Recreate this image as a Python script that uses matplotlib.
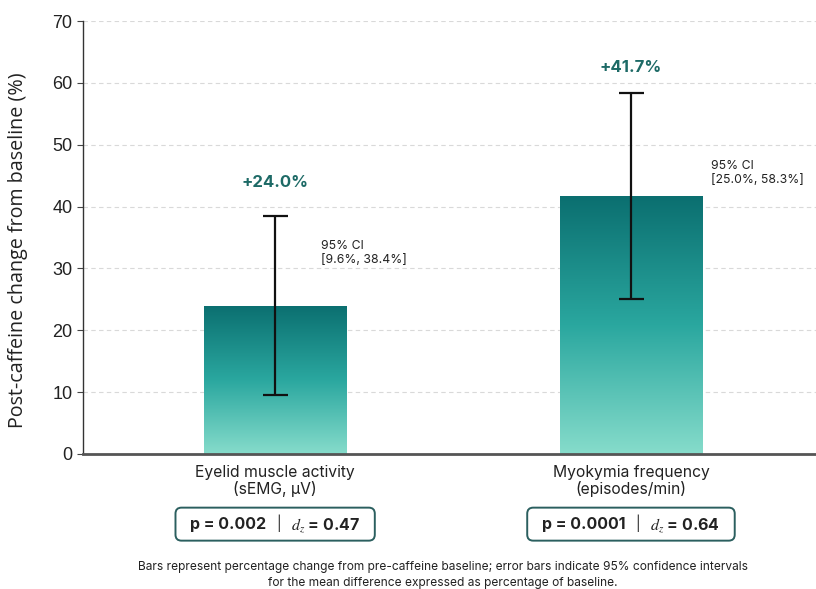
import numpy as np
import matplotlib
matplotlib.use("Agg")
import matplotlib.pyplot as plt
from matplotlib.colors import LinearSegmentedColormap
from matplotlib.patches import FancyBboxPatch
from matplotlib.transforms import IdentityTransform
from matplotlib.offsetbox import TextArea, HPacker, AnnotationBbox

# Data
categories = ["Eyelid muscle activity\n(sEMG, μV)", "Myokymia frequency\n(episodes/min)"]
pct_change = [24.0, 41.7]
ci_low = [9.6, 25.0]
ci_high = [38.4, 58.3]
p_values = ["0.002", "0.0001"]
dz_values = ["0.47", "0.64"]
yticks = [0, 10, 20, 30, 40, 50, 60, 70]

plt.rcParams["font.family"] = ["Inter", "DejaVu Sans"]
plt.rcParams["mathtext.fontset"] = "stix"

TEAL_DARK = "#0b6f70"
TEAL_LIGHT = "#86dccb"
LABEL_TEAL = "#1d6a66"
BOX_EDGE = "#2b5f5f"
TEXT = "#222222"

fig = plt.figure(figsize=(8.16, 5.89), dpi=100)
ax = fig.add_axes([83 / 816, 135 / 589, 733 / 816, 433 / 589])

x = np.arange(len(categories))
width = 0.40
bars = ax.bar(x, pct_change, width=width, color="none", linewidth=0, zorder=2)

# Vertical gradient fill inside each bar
cmap = LinearSegmentedColormap.from_list("teal", [TEAL_LIGHT, "#2aa79f", TEAL_DARK])
grad = np.linspace(0, 1, 256).reshape(-1, 1)
for b in bars:
    x0, y0 = b.get_x(), b.get_y()
    w, h = b.get_width(), b.get_height()
    im = ax.imshow(grad, cmap=cmap, origin="lower", aspect="auto",
                   extent=(x0, x0 + w, y0, y0 + h), zorder=2)
    im.set_clip_path(b)

# Error bars for the 95% CI
yerr = np.array([[v - lo for v, lo in zip(pct_change, ci_low)],
                 [hi - v for v, hi in zip(pct_change, ci_high)]])
ax.errorbar(x, pct_change, yerr=yerr, fmt="none", ecolor="#111111",
            elinewidth=1.6, capsize=9, capthick=1.6, zorder=4)

ax.set_xlim(-0.54, 1.52)
ax.set_ylim(0, 70)
ax.set_yticks(yticks)
ax.tick_params(axis="y", labelsize=13, length=4, color="#444444", labelcolor=TEXT)
for lbl in ax.get_yticklabels():
    lbl.set_family(["Liberation Sans", "DejaVu Sans"])
ax.set_xticks(x)
ax.set_xticklabels(categories, fontsize=11.3, color=TEXT, linespacing=1.1)
ax.tick_params(axis="x", length=0, pad=8)

ax.set_ylabel("Post-caffeine change from baseline (%)", fontsize=14.2, color=TEXT,
              family=["Open Sans", "DejaVu Sans"])
ax.yaxis.set_label_coords(-0.075, 0.47)

ax.grid(axis="y", color="#d9d9d9", linestyle=(0, (4, 3)), linewidth=0.8, zorder=0)
ax.set_axisbelow(True)
for side in ("top", "right"):
    ax.spines[side].set_visible(False)
ax.spines["left"].set_color("#333333")
ax.spines["left"].set_linewidth(1.0)
ax.spines["bottom"].set_color("#555555")
ax.spines["bottom"].set_linewidth(2.0)

# Value labels above CI caps
value_offsets = [5.5, 4.2]
for xi, v, hi, off in zip(x, pct_change, ci_high, value_offsets):
    ax.text(xi, hi + off, f"+{v:.1f}%", ha="center", va="center",
            fontsize=12, fontweight="bold", color=LABEL_TEAL, zorder=5)

# CI annotations
ci_pos = [(0.13, 32.5), (0.225, 45.4)]
for xi, lo, hi, (dx, yy) in zip(x, ci_low, ci_high, ci_pos):
    ax.text(xi + dx, yy, f"95% CI\n[{lo:.1f}%, {hi:.1f}%]", ha="left", va="center",
            fontsize=8.8, color=TEXT, linespacing=1.2, zorder=5)

# Statistics line beneath each category label, framed by a rounded box
bold = dict(fontsize=11.5, fontweight="bold", color=TEXT)
sep = dict(fontsize=10, fontweight="normal", color="#333333")
stat_boxes = []
for xi, p, dz in zip(x, p_values, dz_values):
    pack = HPacker(children=[TextArea(f"p = {p}", textprops=bold),
                             TextArea("|", textprops=sep),
                             TextArea(f"$d_z$ = {dz}", textprops=bold)],
                   sep=7, pad=0, align="baseline")
    ab = AnnotationBbox(pack, (xi, -0.162), xycoords=ax.get_xaxis_transform(),
                        frameon=False, box_alignment=(0.5, 0.5), pad=0,
                        annotation_clip=False, zorder=7)
    ax.add_artist(ab)
    stat_boxes.append(ab)

fig.canvas.draw()
renderer = fig.canvas.get_renderer()
for ab in stat_boxes:
    bb = ab.get_window_extent(renderer)
    cx, cy = (bb.x0 + bb.x1) / 2, (bb.y0 + bb.y1) / 2
    bw, bh = bb.width + 30, 33
    box = FancyBboxPatch((cx - bw / 2, cy - bh / 2), bw, bh,
                         boxstyle="round,pad=0,rounding_size=6",
                         transform=IdentityTransform(), facecolor="white",
                         edgecolor=BOX_EDGE, linewidth=1.4, zorder=6, clip_on=False)
    ax.add_artist(box)

fig.text(443 / 816, 1 - 575 / 589,
         "Bars represent percentage change from pre-caffeine baseline; error bars indicate 95% confidence intervals\n"
         "for the mean difference expressed as percentage of baseline.",
         ha="center", va="center", fontsize=8.6, color=TEXT, linespacing=1.35)

fig.savefig("out.png", dpi=100, facecolor="white")
